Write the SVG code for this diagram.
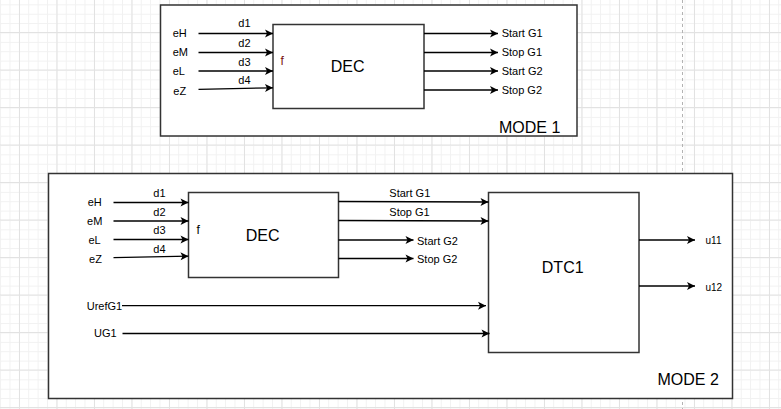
<svg xmlns="http://www.w3.org/2000/svg" width="781" height="409" viewBox="0 0 781 409">
<defs>
<pattern id="minor" patternUnits="userSpaceOnUse" x="0.125" y="4.375" width="9.375" height="9.375">
<rect x="0" y="0" width="1" height="9.375" fill="#f1f1f1"/>
<rect x="0" y="0" width="9.375" height="1" fill="#f1f1f1"/>
</pattern>
<pattern id="major" patternUnits="userSpaceOnUse" x="19" y="32" width="37.5" height="37.5">
<rect x="0" y="0" width="1" height="37.5" fill="#e2e2e2"/>
<rect x="0" y="0" width="37.5" height="1" fill="#e2e2e2"/>
</pattern>
<marker id="arr" viewBox="-9 -5 9 10" markerWidth="9" markerHeight="10" refX="0" refY="0" orient="auto" markerUnits="userSpaceOnUse">
<path d="M0,0 L-8,-4 L-6,0 L-8,4 Z" fill="#000"/>
</marker>
<style>
.box{fill:#fff;stroke:#333;stroke-width:1.5}
.ln{fill:none;stroke:#000;stroke-width:1.3;marker-end:url(#arr)}
.t{font-family:"Liberation Sans",Arial,sans-serif;fill:#000}
.s{font-size:11px}
.u{font-size:10px}
.b{font-size:16px}
.f{font-size:12px}
</style>
</defs>
<rect width="781" height="409" fill="#fff"/>
<rect width="781" height="409" fill="url(#minor)"/>
<rect width="781" height="409" fill="url(#major)"/>
<line x1="682.5" y1="0" x2="682.5" y2="409" stroke="#b3b3b3" stroke-width="1" stroke-dasharray="3 3"/>

<g id="mode1">
<rect class="box" x="160.5" y="5" width="416.5" height="131"/>
<text class="t b" x="499" y="132.5">MODE 1</text>
</g>
<g id="mode2">
<rect class="box" x="48.5" y="173.5" width="684" height="225"/>
<text class="t b" x="657.5" y="385">MODE 2</text>
</g>
<g id="dec1">
<rect class="box" x="273" y="24.5" width="151" height="84"/>
<text class="t f" x="280.5" y="65" style="fill:#7a1010">f</text>
<text class="t b" x="347.7" y="72.3" text-anchor="middle">DEC</text>
</g>
<g id="dec2">
<rect class="box" x="188.5" y="192.5" width="150" height="85"/>
<text class="t f" x="196.5" y="234">f</text>
<text class="t b" x="262.7" y="240.7" text-anchor="middle">DEC</text>
</g>
<g id="dtc1">
<rect class="box" x="488.5" y="192.5" width="150.5" height="160"/>
<text class="t b" x="562.7" y="273.3" text-anchor="middle">DTC1</text>
</g>

<g id="connectors">
<line class="ln" x1="198.5" y1="33.5" x2="273" y2="33.5"/>
<line class="ln" x1="198.5" y1="52.5" x2="273" y2="52.5"/>
<line class="ln" x1="198.5" y1="71" x2="273" y2="71"/>
<line class="ln" x1="198.5" y1="89.3" x2="273" y2="87.8"/>
<line class="ln" x1="424" y1="33.5" x2="498" y2="33.5"/>
<line class="ln" x1="424" y1="52.5" x2="498" y2="52.5"/>
<line class="ln" x1="424" y1="71" x2="498" y2="71"/>
<line class="ln" x1="424" y1="90" x2="498" y2="90"/>

<line class="ln" x1="113.5" y1="202.5" x2="188.5" y2="202.5"/>
<line class="ln" x1="113.5" y1="221" x2="188.5" y2="221"/>
<line class="ln" x1="113.5" y1="239.5" x2="188.5" y2="239.5"/>
<line class="ln" x1="113.5" y1="257.7" x2="188.5" y2="256.2"/>
<line class="ln" x1="338.5" y1="201.5" x2="488.5" y2="202"/>
<line class="ln" x1="338.5" y1="220.5" x2="488.5" y2="221"/>
<line class="ln" x1="338.5" y1="240" x2="413.5" y2="240"/>
<line class="ln" x1="338.5" y1="258.5" x2="413.5" y2="258.5"/>
<line class="ln" x1="639" y1="240" x2="695" y2="240"/>
<line class="ln" x1="639" y1="286" x2="695" y2="286"/>
<line class="ln" x1="122" y1="305.7" x2="486" y2="305.7"/>
<line class="ln" x1="122.5" y1="333.5" x2="489.5" y2="333.5"/>
</g>

<g id="labels">
<text class="t s" x="172.7" y="37.3">eH</text>
<text class="t s" x="172.7" y="56.3">eM</text>
<text class="t s" x="172.7" y="75">eL</text>
<text class="t s" x="173.3" y="94.5">eZ</text>
<text class="t s" x="238.3" y="27.3">d1</text>
<text class="t s" x="238.3" y="46.7">d2</text>
<text class="t s" x="238.3" y="65.7">d3</text>
<text class="t s" x="238.3" y="84.3">d4</text>
<text class="t s" x="501.7" y="37.3">Start G1</text>
<text class="t s" x="501.7" y="56.3">Stop G1</text>
<text class="t s" x="501.7" y="75">Start G2</text>
<text class="t s" x="501.7" y="94">Stop G2</text>

<text class="t s" x="94.7" y="206.3" text-anchor="middle">eH</text>
<text class="t s" x="94.7" y="225" text-anchor="middle">eM</text>
<text class="t s" x="94.5" y="243.7" text-anchor="middle">eL</text>
<text class="t s" x="95.5" y="263" text-anchor="middle">eZ</text>
<text class="t s" x="153.3" y="196.7">d1</text>
<text class="t s" x="153.3" y="215.7">d2</text>
<text class="t s" x="153.3" y="234.3">d3</text>
<text class="t s" x="153.3" y="253.3">d4</text>
<text class="t s" x="389.3" y="197">Start G1</text>
<text class="t s" x="389.3" y="216">Stop G1</text>
<text class="t s" x="417" y="244.5">Start G2</text>
<text class="t s" x="417" y="263">Stop G2</text>
<text class="t u" x="705.5" y="244">u11</text>
<text class="t u" x="705.5" y="290.5">u12</text>
<text class="t s" x="86.7" y="309.5">UrefG1</text>
<text class="t s" x="94" y="337">UG1</text>
</g>
</svg>
